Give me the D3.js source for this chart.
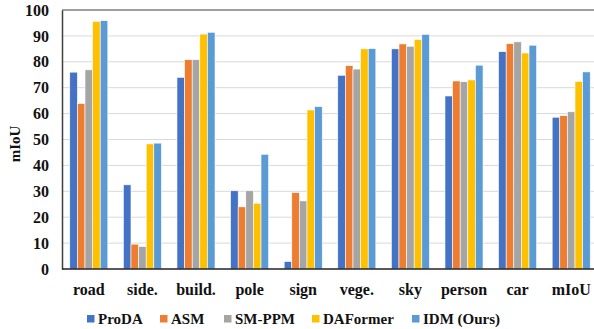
<!DOCTYPE html>
<html>
<head>
<meta charset="utf-8">
<script src="https://cdn.jsdelivr.net/npm/d3@7"></script>
<style>
  body { margin: 0; background: #fff; }
  text { font-family: "Liberation Serif", "Times New Roman", serif; font-weight: bold; fill: #111; }
</style>
</head>
<body>
<div id="vis"></div>
<script>
// chart data
var categories = ["road", "side.", "build.", "pole", "sign", "vege.", "sky", "person", "car", "mIoU"];
var seriesNames = ["ProDA", "ASM", "SM-PPM", "DAFormer", "IDM (Ours)"];
var proda    = [76.0, 32.5, 74.0, 30.2,  2.9, 74.8, 85.0, 66.8, 83.9, 58.6];
var asm      = [63.9,  9.6, 80.8, 24.0, 29.5, 78.5, 86.9, 72.6, 87.0, 59.2];
var smppm    = [76.9,  8.7, 80.8, 30.2, 26.3, 77.2, 86.0, 72.3, 87.7, 60.7];
var daformer = [95.6, 48.3, 90.7, 25.4, 61.4, 85.0, 88.6, 73.0, 83.4, 72.4];
var idm      = [95.9, 48.6, 91.4, 44.3, 62.7, 85.1, 90.6, 78.7, 86.4, 76.1];
var yTicks = [0, 10, 20, 30, 40, 50, 60, 70, 80, 90, 100];

var seriesValues = [proda, asm, smppm, daformer, idm];
var colors = ["#4472C4", "#ED7D31", "#A5A5A5", "#FFC000", "#5B9BD5"];

var width = 594, height = 329;
var margin = {left: 62, right: -4, top: 10, bottom: 60};

var svg = d3.select("#vis").append("svg")
    .attr("width", width)
    .attr("height", height);

var x = d3.scaleBand()
    .domain(categories)
    .range([margin.left, width - margin.right])
    .paddingInner(0.29)
    .paddingOuter(0.145);

var xs = d3.scaleBand()
    .domain(seriesNames)
    .range([0, x.bandwidth()]);

var y = d3.scaleLinear()
    .domain([0, 100])
    .range([height - margin.bottom, margin.top]);

// gridlines
svg.append("g")
    .selectAll("line")
    .data(yTicks.slice(1))
    .enter().append("line")
    .attr("x1", margin.left)
    .attr("x2", width)
    .attr("y1", function(d) { return y(d); })
    .attr("y2", function(d) { return y(d); })
    .attr("stroke", function(d) { return d === 100 ? "#7f7f7f" : "#d9d9d9"; })
    .attr("stroke-width", function(d) { return d === 100 ? 1.5 : 1; });

// bars
var groups = svg.append("g")
    .selectAll("g")
    .data(categories)
    .enter().append("g")
    .attr("transform", function(d) { return "translate(" + x(d) + ",0)"; });

groups.selectAll("rect")
    .data(function(d, i) {
        return seriesNames.map(function(s, j) { return {s: s, j: j, v: seriesValues[j][i]}; });
    })
    .enter().append("rect")
    .attr("x", function(d) { return xs(d.s); })
    .attr("y", function(d) { return y(d.v); })
    .attr("width", xs.bandwidth())
    .attr("height", function(d) { return y(0) - y(d.v); })
    .attr("fill", function(d) { return colors[d.j]; })
    .attr("stroke", "#fff")
    .attr("stroke-width", 0.6);

// axes
var yAxis = svg.append("g")
    .attr("transform", "translate(" + margin.left + ",0)")
    .call(d3.axisLeft(y).tickValues(yTicks).tickSize(0).tickPadding(13));
yAxis.select(".domain").attr("stroke", "#404040").attr("stroke-width", 1.5);
yAxis.selectAll("text").style("font-size", "16px").attr("fill", "#111");

var xAxis = svg.append("g")
    .attr("transform", "translate(0," + y(0) + ")")
    .call(d3.axisBottom(x).tickSize(0).tickPadding(15));
xAxis.select(".domain").attr("stroke", "#222").attr("stroke-width", 1.5)
    .attr("d", "M" + margin.left + ",0H" + width);
xAxis.selectAll("text").style("font-size", "16px").attr("fill", "#111");

// y label
svg.append("text")
    .attr("transform", "translate(20,144) rotate(-90)")
    .attr("text-anchor", "middle")
    .style("font-size", "15px")
    .text("mIoU");

// legend
var legendX = [87, 160, 224, 312, 412];
var legend = svg.append("g")
    .selectAll("g")
    .data(seriesNames)
    .enter().append("g")
    .attr("transform", function(d, i) { return "translate(" + legendX[i] + ",319)"; });

legend.append("rect")
    .attr("x", 0)
    .attr("y", -4)
    .attr("width", 7.5)
    .attr("height", 7.5)
    .attr("fill", function(d, i) { return colors[i]; });

legend.append("text")
    .attr("x", 11)
    .attr("y", 5)
    .style("font-size", "15px")
    .text(function(d) { return d; });
</script>
</body>
</html>
